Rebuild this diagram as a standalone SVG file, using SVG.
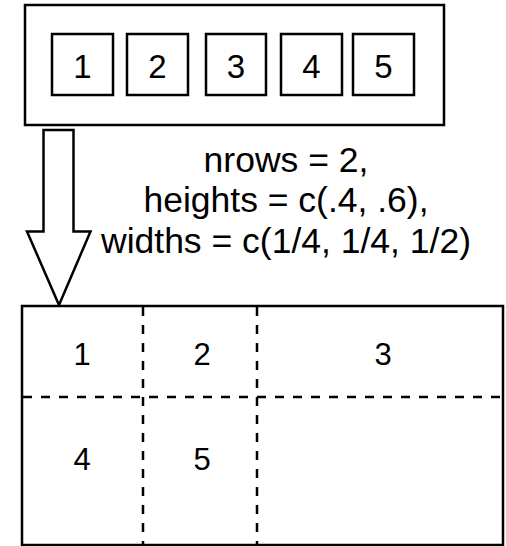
<svg xmlns="http://www.w3.org/2000/svg" width="506" height="546" viewBox="0 0 506 546">
<style>
.box{fill:#fff;stroke:#000;stroke-width:2.5}
.dash{fill:none;stroke:#000;stroke-width:2.5;stroke-dasharray:9 9}
.num{font-family:"Liberation Sans",Arial,sans-serif;font-size:33px;fill:#000;text-anchor:middle}
.gnum{font-family:"Liberation Sans",Arial,sans-serif;font-size:31px;fill:#000;text-anchor:middle}
.lbl{font-family:"Liberation Sans",Arial,sans-serif;font-size:35.5px;fill:#000;text-anchor:middle}
</style>
<rect width="506" height="546" fill="#fff"/>
<g id="source">
<rect class="box" x="25" y="5" width="419" height="120"/>
<g id="s1"><rect class="box" x="52" y="34" width="61" height="61"/><text class="num" x="82.5" y="78">1</text></g>
<g id="s2"><rect class="box" x="127" y="34" width="61" height="61"/><text class="num" x="157.5" y="78">2</text></g>
<g id="s3"><rect class="box" x="206" y="34" width="60" height="61"/><text class="num" x="236" y="78">3</text></g>
<g id="s4"><rect class="box" x="281" y="34" width="61" height="61"/><text class="num" x="311.5" y="78">4</text></g>
<g id="s5"><rect class="box" x="353" y="34" width="61" height="61"/><text class="num" x="383.5" y="78">5</text></g>
</g>
<g id="connectors">
<polygon class="box" points="43.5,130 73.5,130 73.5,231.5 90.5,231.5 59,305 27,231.5 43.5,231.5"/>
</g>
<g id="label">
<text class="lbl" x="286" y="172">nrows = 2,</text>
<text class="lbl" x="286" y="212">heights = c(.4, .6),</text>
<text class="lbl" x="286" y="253">widths = c(1/4, 1/4, 1/2)</text>
</g>
<g id="grid">
<rect class="box" x="22" y="306" width="481" height="239"/>
<line class="dash" x1="143" y1="307" x2="143" y2="545"/>
<line class="dash" x1="257" y1="307" x2="257" y2="545"/>
<line class="dash" x1="23" y1="397" x2="502" y2="397"/>
<g id="g1"><text class="gnum" x="82" y="365">1</text></g>
<g id="g2"><text class="gnum" x="202" y="365">2</text></g>
<g id="g3"><text class="gnum" x="383" y="365">3</text></g>
<g id="g4"><text class="gnum" x="82" y="470">4</text></g>
<g id="g5"><text class="gnum" x="202" y="470">5</text></g>
</g>
</svg>
